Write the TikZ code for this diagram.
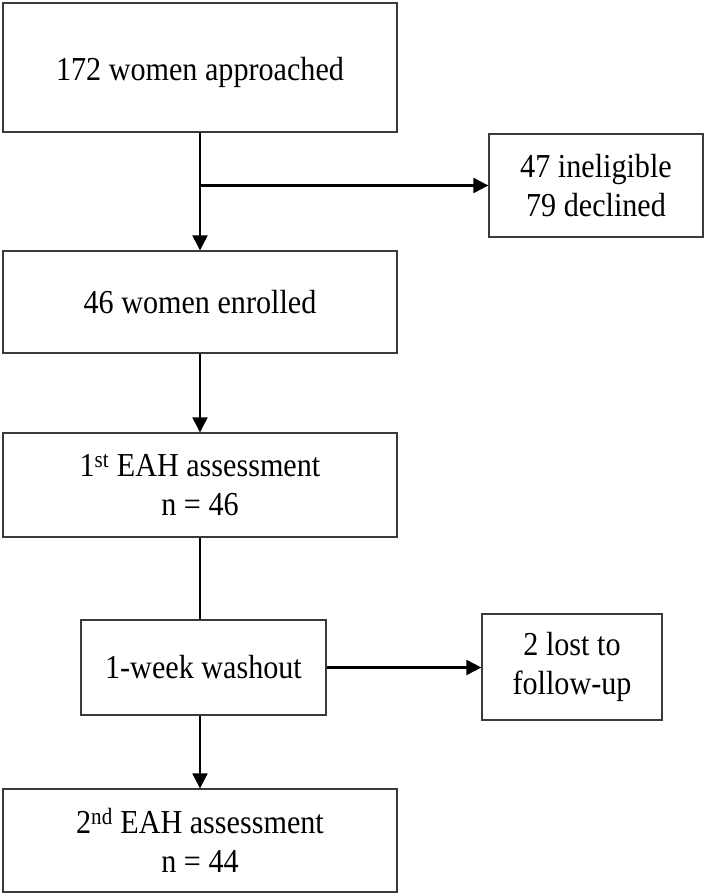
\documentclass[tikz,border=0pt]{standalone}
\usepackage{fontspec}
\setmainfont{Liberation Serif}[FakeStretch=0.9]
\usetikzlibrary{arrows.meta}
\definecolor{boxline}{HTML}{3A3A3A}
\tikzset{
  box/.style={draw=boxline, line width=1.3pt, inner sep=0pt, align=center,
    font=\fontsize{33.5}{38.5}\selectfont},
  arr/.style={line width=2.3pt, -{Triangle[length=15pt,width=15pt]}},
  plain/.style={line width=2.3pt}
}
\begin{document}
\begin{tikzpicture}[x=1pt,y=-1pt]
\useasboundingbox (0,0) rectangle (707,896);
\node[box, minimum width=394pt, minimum height=129pt] (b1) at (200,67.5) {\raisebox{-5pt}[\height][\depth]{172 women approached}};
\node[box, minimum width=214pt, minimum height=103pt] (b2) at (596,185.5) {47 ineligible\\79 declined};
\node[box, minimum width=394pt, minimum height=102pt] (b3) at (200,302) {46 women enrolled};
\node[box, minimum width=394pt, minimum height=104pt] (b4) at (200,485) {1\textsuperscript{st} EAH assessment\\n = 46};
\node[box, minimum width=245pt, minimum height=95pt] (b5) at (203.5,667.5) {1-week washout};
\node[box, minimum width=180pt, minimum height=106pt] (b6) at (572,667) {2 lost to\\follow-up};
\node[box, minimum width=394pt, minimum height=103pt] (b7) at (200,840.5) {2\textsuperscript{nd} EAH assessment\\n = 44};
\coordinate (br) at (200,185.5);
\draw[arr] (b1.south) -- (b3.north);
\draw[arr] (br) -- (br -| b2.west);
\draw[arr] (b3.south) -- (b4.north);
\draw[plain] (b4.south) -- (b4.south |- b5.north);
\draw[arr] (b5.east) -- (b5.east -| b6.west);
\draw[arr] (b4.south |- b5.south) -- (b7.north);
\end{tikzpicture}
\end{document}
